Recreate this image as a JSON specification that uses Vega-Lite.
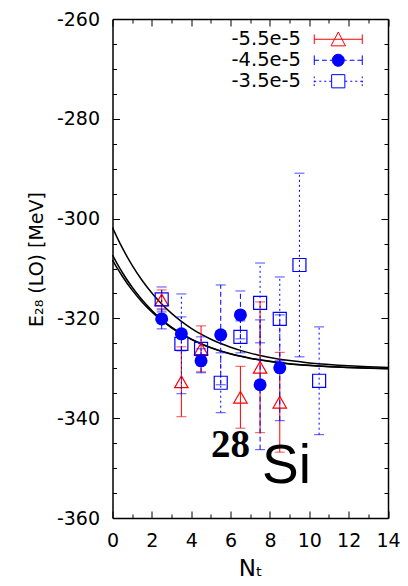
{
  "$schema": "https://vega.github.io/schema/vega-lite/v6.json",
  "width": 275.5,
  "height": 499,
  "autosize": {"type": "none"},
  "padding": {"left": 112.5, "top": 19, "right": 20, "bottom": 68},
  "background": "white",
  "config": {
    "view": {"stroke": null},
    "axis": {"grid": false, "domainColor": "black", "tickColor": "black", "labelColor": "black", "titleColor": "black", "domainWidth": 1.5, "tickWidth": 1, "labelFont": "DejaVu Sans", "titleFont": "DejaVu Sans", "titleFontWeight": "normal"},
    "legend": {
      "orient": "none", "legendX": 216, "legendY": 10.5, "title": null, "padding": 0,
      "labelFontSize": 19.5, "labelFont": "DejaVu Sans", "labelColor": "black", "labelAlign": "right", "labelOffset": -47,
      "symbolSize": 144, "symbolOpacity": 1, "symbolStrokeWidth": 1, "rowPadding": 0
    }
  },
  "datasets": {
    "curves": [
      {"curve": "A", "Nt": 0, "E": -301.8}, {"curve": "A", "Nt": 0.25, "E": -303.9}, {"curve": "A", "Nt": 0.5, "E": -305.88}, {"curve": "A", "Nt": 1, "E": -309.37}, {"curve": "A", "Nt": 1.5, "E": -312.36}, {"curve": "A", "Nt": 2, "E": -314.92}, {"curve": "A", "Nt": 2.5, "E": -317.12}, {"curve": "A", "Nt": 3, "E": -318.99}, {"curve": "A", "Nt": 3.5, "E": -320.6}, {"curve": "A", "Nt": 4, "E": -321.98}, {"curve": "A", "Nt": 4.5, "E": -323.16}, {"curve": "A", "Nt": 5, "E": -324.17}, {"curve": "A", "Nt": 5.5, "E": -325.04}, {"curve": "A", "Nt": 6, "E": -325.78}, {"curve": "A", "Nt": 6.5, "E": -326.41}, {"curve": "A", "Nt": 7, "E": -326.96}, {"curve": "A", "Nt": 7.5, "E": -327.42}, {"curve": "A", "Nt": 8, "E": -327.82}, {"curve": "A", "Nt": 9, "E": -328.46}, {"curve": "A", "Nt": 10, "E": -328.92}, {"curve": "A", "Nt": 11, "E": -329.26}, {"curve": "A", "Nt": 12, "E": -329.51}, {"curve": "A", "Nt": 13, "E": -329.69}, {"curve": "A", "Nt": 14, "E": -329.83},
      {"curve": "B", "Nt": 0, "E": -307.3}, {"curve": "B", "Nt": 0.25, "E": -309.12}, {"curve": "B", "Nt": 0.5, "E": -310.8}, {"curve": "B", "Nt": 1, "E": -313.77}, {"curve": "B", "Nt": 1.5, "E": -316.28}, {"curve": "B", "Nt": 2, "E": -318.41}, {"curve": "B", "Nt": 2.5, "E": -320.22}, {"curve": "B", "Nt": 3, "E": -321.75}, {"curve": "B", "Nt": 3.5, "E": -323.05}, {"curve": "B", "Nt": 4, "E": -324.16}, {"curve": "B", "Nt": 4.5, "E": -325.09}, {"curve": "B", "Nt": 5, "E": -325.88}, {"curve": "B", "Nt": 5.5, "E": -326.56}, {"curve": "B", "Nt": 6, "E": -327.12}, {"curve": "B", "Nt": 6.5, "E": -327.61}, {"curve": "B", "Nt": 7, "E": -328.02}, {"curve": "B", "Nt": 7.5, "E": -328.36}, {"curve": "B", "Nt": 8, "E": -328.66}, {"curve": "B", "Nt": 9, "E": -329.12}, {"curve": "B", "Nt": 10, "E": -329.45}, {"curve": "B", "Nt": 11, "E": -329.69}, {"curve": "B", "Nt": 12, "E": -329.86}, {"curve": "B", "Nt": 13, "E": -329.98}, {"curve": "B", "Nt": 14, "E": -330.07},
      {"curve": "C", "Nt": 0, "E": -308.3}, {"curve": "C", "Nt": 0.25, "E": -309.99}, {"curve": "C", "Nt": 0.5, "E": -311.55}, {"curve": "C", "Nt": 1, "E": -314.33}, {"curve": "C", "Nt": 1.5, "E": -316.69}, {"curve": "C", "Nt": 2, "E": -318.7}, {"curve": "C", "Nt": 2.5, "E": -320.42}, {"curve": "C", "Nt": 3, "E": -321.88}, {"curve": "C", "Nt": 3.5, "E": -323.12}, {"curve": "C", "Nt": 4, "E": -324.18}, {"curve": "C", "Nt": 4.5, "E": -325.09}, {"curve": "C", "Nt": 5, "E": -325.86}, {"curve": "C", "Nt": 5.5, "E": -326.52}, {"curve": "C", "Nt": 6, "E": -327.07}, {"curve": "C", "Nt": 6.5, "E": -327.55}, {"curve": "C", "Nt": 7, "E": -327.96}, {"curve": "C", "Nt": 7.5, "E": -328.3}, {"curve": "C", "Nt": 8, "E": -328.6}, {"curve": "C", "Nt": 9, "E": -329.07}, {"curve": "C", "Nt": 10, "E": -329.4}, {"curve": "C", "Nt": 11, "E": -329.65}, {"curve": "C", "Nt": 12, "E": -329.83}, {"curve": "C", "Nt": 13, "E": -329.96}, {"curve": "C", "Nt": 14, "E": -330.05}
    ],
    "points": [
      {"series": "-5.5e-5", "Nt": 2.5, "E": -316.3, "lo": -318.3, "hi": -314.3},
      {"series": "-5.5e-5", "Nt": 3.5, "E": -332.7, "lo": -339.7, "hi": -325.7},
      {"series": "-5.5e-5", "Nt": 4.5, "E": -326.1, "lo": -330.7, "hi": -321.5},
      {"series": "-5.5e-5", "Nt": 6.5, "E": -335.8, "lo": -342.0, "hi": -329.6},
      {"series": "-5.5e-5", "Nt": 7.5, "E": -329.8, "lo": -342.9, "hi": -316.7},
      {"series": "-5.5e-5", "Nt": 8.5, "E": -336.8, "lo": -346.8, "hi": -326.8},
      {"series": "-4.5e-5", "Nt": 2.5, "E": -320.1, "lo": -322.1, "hi": -318.1},
      {"series": "-4.5e-5", "Nt": 3.5, "E": -323.1, "lo": -326.5, "hi": -319.7},
      {"series": "-4.5e-5", "Nt": 4.5, "E": -328.5, "lo": -330.9, "hi": -326.1},
      {"series": "-4.5e-5", "Nt": 5.5, "E": -323.3, "lo": -333.3, "hi": -313.3},
      {"series": "-4.5e-5", "Nt": 6.5, "E": -319.3, "lo": -324.1, "hi": -314.5},
      {"series": "-4.5e-5", "Nt": 7.5, "E": -333.3, "lo": -346.3, "hi": -320.3},
      {"series": "-4.5e-5", "Nt": 8.5, "E": -329.9, "lo": -340.5, "hi": -319.3},
      {"series": "-3.5e-5", "Nt": 2.5, "E": -316.2, "lo": -318.7, "hi": -313.7},
      {"series": "-3.5e-5", "Nt": 3.5, "E": -325.1, "lo": -335.1, "hi": -315.1},
      {"series": "-3.5e-5", "Nt": 4.5, "E": -326.1, "lo": -328.5, "hi": -323.7},
      {"series": "-3.5e-5", "Nt": 5.5, "E": -332.9, "lo": -338.9, "hi": -326.9},
      {"series": "-3.5e-5", "Nt": 6.5, "E": -323.7, "lo": -326.9, "hi": -320.5},
      {"series": "-3.5e-5", "Nt": 7.5, "E": -316.9, "lo": -324.9, "hi": -308.9},
      {"series": "-3.5e-5", "Nt": 8.5, "E": -320.1, "lo": -328.5, "hi": -311.7},
      {"series": "-3.5e-5", "Nt": 9.5, "E": -309.3, "lo": -327.7, "hi": -290.9},
      {"series": "-3.5e-5", "Nt": 10.5, "E": -332.5, "lo": -343.3, "hi": -321.7}
    ],
    "annot28": [{"label": "28", "Nt": 6.0, "E": -347.8}],
    "annotSi": [{"label": "Si", "Nt": 7.6, "E": -353.0}]
  },
  "layer": [
    {
      "data": {"name": "curves"},
      "mark": {"type": "line", "color": "black", "strokeWidth": 1.5, "interpolate": "monotone"},
      "encoding": {
        "x": {"field": "Nt", "type": "quantitative", "scale": {"domain": [0, 14], "nice": false, "zero": false},
          "axis": {"orient": "bottom", "values": [0,1,2,3,4,5,6,7,8,9,10,11,12,13,14], "labelExpr": "datum.value % 2 === 0 ? '' + datum.value : ''", "tickSize": {"condition": {"test": "datum.value % 2 === 0", "value": -7}, "value": -4}, "labelPadding": 20, "labelFontSize": 19, "labelFlush": false, "title": "Nₜ", "titleFontSize": 23, "titlePadding": 7}},
        "y": {"field": "E", "type": "quantitative", "scale": {"domain": [-360, -260], "nice": false, "zero": false},
          "axis": {"orient": "left", "values": [-360,-355,-350,-345,-340,-335,-330,-325,-320,-315,-310,-305,-300,-295,-290,-285,-280,-275,-270,-265,-260], "labelExpr": "datum.value % 20 === 0 ? '' + datum.value : ''", "tickSize": {"condition": {"test": "datum.value % 20 === 0", "value": -7}, "value": -4}, "labelPadding": 20, "labelFontSize": 19, "labelFlush": false, "title": "E₂₈ (LO)  [MeV]", "titleFontSize": 19, "titleX": -76.5, "titleY": 240, "titleBaseline": "middle", "titleAngle": -90}},
        "detail": {"field": "curve", "type": "nominal"}
      }
    },
    {
      "data": {"name": "curves"},
      "mark": {"type": "point", "opacity": 0},
      "encoding": {
        "x": {"field": "Nt", "type": "quantitative", "axis": {"orient": "top", "values": [0,1,2,3,4,5,6,7,8,9,10,11,12,13,14], "labels": false, "title": null, "tickSize": {"condition": {"test": "datum.value % 2 === 0", "value": -7}, "value": -4}}},
        "y": {"field": "E", "type": "quantitative", "axis": {"orient": "right", "values": [-360,-355,-350,-345,-340,-335,-330,-325,-320,-315,-310,-305,-300,-295,-290,-285,-280,-275,-270,-265,-260], "labels": false, "title": null, "tickSize": {"condition": {"test": "datum.value % 20 === 0", "value": -7}, "value": -4}}}
      }
    },
    {
      "data": {"name": "points"},
      "transform": [{"filter": "datum.series === '-5.5e-5'"}],
      "mark": {"type": "errorbar", "color": "#ff0000", "ticks": {"size": 10, "thickness": 1}, "rule": {"strokeWidth": 1}},
      "encoding": {
        "x": {"field": "Nt", "type": "quantitative", "axis": null},
        "y": {"field": "lo", "type": "quantitative", "axis": null},
        "y2": {"field": "hi"}
      }
    },
    {
      "data": {"name": "points"},
      "transform": [{"filter": "datum.series === '-5.5e-5'"}],
      "mark": {"type": "point", "shape": "triangle-up", "size": 180, "filled": false, "color": "#ff0000", "strokeWidth": 1.2, "opacity": 1},
      "encoding": {
        "x": {"field": "Nt", "type": "quantitative", "axis": null},
        "y": {"field": "E", "type": "quantitative", "axis": null}
      }
    },
    {
      "data": {"name": "points"},
      "transform": [{"filter": "datum.series === '-4.5e-5'"}],
      "mark": {"type": "errorbar", "color": "#0000ff", "ticks": {"size": 10, "thickness": 1}, "rule": {"strokeWidth": 1, "strokeDash": [5, 3]}},
      "encoding": {
        "x": {"field": "Nt", "type": "quantitative", "axis": null},
        "y": {"field": "lo", "type": "quantitative", "axis": null},
        "y2": {"field": "hi"}
      }
    },
    {
      "data": {"name": "points"},
      "transform": [{"filter": "datum.series === '-4.5e-5'"}],
      "mark": {"type": "point", "shape": "circle", "size": 169, "filled": true, "color": "#0000ff", "opacity": 1},
      "encoding": {
        "x": {"field": "Nt", "type": "quantitative", "axis": null},
        "y": {"field": "E", "type": "quantitative", "axis": null}
      }
    },
    {
      "data": {"name": "points"},
      "transform": [{"filter": "datum.series === '-3.5e-5'"}],
      "mark": {"type": "errorbar", "color": "#0000ff", "ticks": {"size": 10, "thickness": 1}, "rule": {"strokeWidth": 1, "strokeDash": [2, 3]}},
      "encoding": {
        "x": {"field": "Nt", "type": "quantitative", "axis": null},
        "y": {"field": "lo", "type": "quantitative", "axis": null},
        "y2": {"field": "hi"}
      }
    },
    {
      "data": {"name": "points"},
      "transform": [{"filter": "datum.series === '-3.5e-5'"}],
      "mark": {"type": "point", "shape": "square", "size": 169, "filled": false, "color": "#0000ff", "strokeWidth": 1.2, "opacity": 1},
      "encoding": {
        "x": {"field": "Nt", "type": "quantitative", "axis": null},
        "y": {"field": "E", "type": "quantitative", "axis": null}
      }
    },
    {
      "data": {"name": "points"},
      "mark": {"type": "point", "filled": false, "opacity": 0},
      "encoding": {
        "x": {"field": "Nt", "type": "quantitative", "axis": null},
        "y": {"field": "E", "type": "quantitative", "axis": null},
        "shape": {"field": "series", "type": "nominal", "scale": {"domain": ["-5.5e-5", "-4.5e-5", "-3.5e-5"], "range": [
          "M-4,0H4M-4,-0.8V0.8M4,-0.8V0.8M0,-1.2L1.2,1.1L-1.2,1.1Z",
          "M-4,0H-3.2M-2.7,0H-1.9M-1.4,0H-1M1,0H1.4M1.9,0H2.7M3.2,0H4M-4,-0.8V0.8M4,-0.8V0.8M1,0A1,1 0 1,1 -1,0A1,1 0 1,1 1,0Z",
          "M-4,0H-3.67M-3.17,0H-2.83M-2.33,0H-2M-1.5,0H-1.1M1.1,0H1.5M2,0H2.33M2.83,0H3.17M3.67,0H4M-4,-0.8V-0.5M-4,-0.1V0.2M-4,0.5V0.8M4,-0.8V-0.5M4,-0.1V0.2M4,0.5V0.8M-1.1,-1.1H1.1V1.1H-1.1Z"]}},
        "stroke": {"field": "series", "type": "nominal", "scale": {"domain": ["-5.5e-5", "-4.5e-5", "-3.5e-5"], "range": ["#ff0000", "#0000ff", "#0000ff"]}},
        "fill": {"field": "series", "type": "nominal", "scale": {"domain": ["-5.5e-5", "-4.5e-5", "-3.5e-5"], "range": ["transparent", "#0000ff", "transparent"]}}
      }
    },
    {
      "data": {"name": "annot28"},
      "mark": {"type": "text", "font": "Liberation Serif", "fontWeight": "bold", "fontSize": 39, "align": "center", "baseline": "alphabetic", "color": "black"},
      "encoding": {
        "x": {"field": "Nt", "type": "quantitative", "axis": null},
        "y": {"field": "E", "type": "quantitative", "axis": null},
        "text": {"field": "label"}
      }
    },
    {
      "data": {"name": "annotSi"},
      "mark": {"type": "text", "font": "Liberation Sans", "fontSize": 55, "align": "left", "baseline": "alphabetic", "color": "black"},
      "encoding": {
        "x": {"field": "Nt", "type": "quantitative", "axis": null},
        "y": {"field": "E", "type": "quantitative", "axis": null},
        "text": {"field": "label"}
      }
    }
  ],
  "resolve": {"axis": {"x": "independent", "y": "independent"}}
}
